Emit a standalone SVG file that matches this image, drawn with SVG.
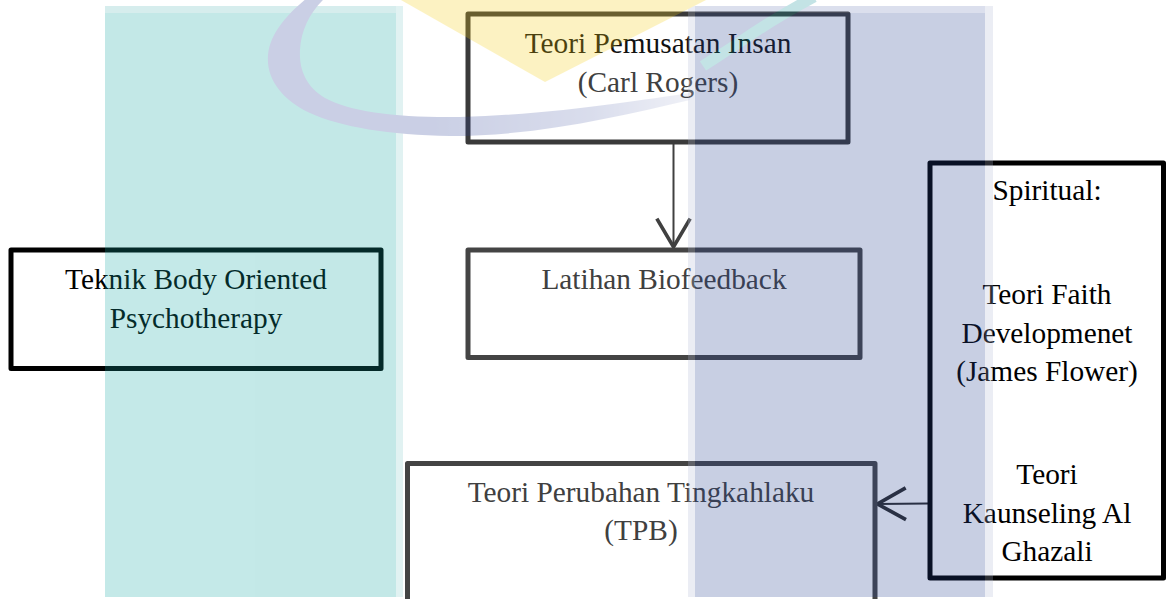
<svg xmlns="http://www.w3.org/2000/svg" width="1166" height="599" viewBox="0 0 1166 599">
  <style>
    .box { fill: none; stroke-width: 5; stroke-linejoin: round; }
    .dark { stroke: #000; }
    .grey { stroke: #444; }
    .top { stroke: #3a3a3a; }
    .t { font-family: "Liberation Serif", "Times New Roman", serif; font-size: 29.33px; text-anchor: middle; }
    .ink { fill: #000; }
    .ink2 { fill: #111; }
    .soft { fill: #404040; }
    .link { fill: none; stroke-width: 2; }
  </style>
  <defs>
    <marker id="headGrey" markerUnits="userSpaceOnUse" markerWidth="40" markerHeight="40" viewBox="-20 -12 24 24" refX="0" refY="0" orient="auto">
      <path d="M -17 -10 L 0 0 L -17 10" fill="none" stroke="#404040" stroke-width="2.2"/>
    </marker>
    <marker id="headDark" markerUnits="userSpaceOnUse" markerWidth="40" markerHeight="40" viewBox="-20 -12 24 24" refX="0" refY="0" orient="auto">
      <path d="M -17 -9.5 L 0 0 L -17 9.5" fill="none" stroke="#2a2a2a" stroke-width="2.2"/>
    </marker>
    <linearGradient id="ringFade" gradientUnits="userSpaceOnUse" x1="430" y1="0" x2="700" y2="0">
      <stop offset="0" stop-color="#2f4399" stop-opacity="1"/>
      <stop offset="0.6" stop-color="#2f4399" stop-opacity="0.7"/>
      <stop offset="1" stop-color="#2f4399" stop-opacity="0.25"/>
    </linearGradient>
  </defs>

  <rect x="0" y="0" width="1166" height="599" fill="#fff"/>

  <!-- connectors -->
  <g id="connectors">
    <line class="link" x1="673.5" y1="144" x2="673.5" y2="247" stroke="#404040" marker-end="url(#headGrey)"/>
    <line class="link" x1="928" y1="503.5" x2="877.5" y2="504" stroke="#2a2a2a" marker-end="url(#headDark)"/>
  </g>

  <g id="node-pemusatan">
    <rect class="box top" x="468" y="14" width="380" height="128"/>
    <text class="t ink2" x="658" y="53.3">Teori Pemusatan Insan</text>
    <text class="t soft" x="658" y="91.7">(Carl Rogers)</text>
  </g>

  <g id="node-body">
    <rect class="box dark" x="11" y="250" width="370" height="118.5"/>
    <text class="t ink" x="196" y="289.3">Teknik Body Oriented</text>
    <text class="t ink" x="196" y="327.7">Psychotherapy</text>
  </g>

  <g id="node-biofeedback">
    <rect class="box grey" x="468" y="250" width="392" height="107.5"/>
    <text class="t soft" x="664" y="289">Latihan Biofeedback</text>
  </g>

  <g id="node-tpb">
    <rect class="box grey" x="407.5" y="463.5" width="467.5" height="160"/>
    <text class="t soft" x="641" y="501.7">Teori Perubahan Tingkahlaku</text>
    <text class="t soft" x="641" y="540">(TPB)</text>
  </g>

  <g id="node-spiritual">
    <rect class="box dark" x="930" y="163" width="233.5" height="415"/>
    <text class="t ink" x="1047" y="200">Spiritual:</text>
    <text class="t ink" x="1047" y="304">Teori Faith</text>
    <text class="t ink" x="1047" y="342.5">Developmenet</text>
    <text class="t ink" x="1047" y="381">(James Flower)</text>
    <text class="t ink" x="1047" y="484">Teori</text>
    <text class="t ink" x="1047" y="522.5">Kaunseling Al</text>
    <text class="t ink" x="1047" y="561">Ghazali</text>
  </g>

  <!-- translucent emblem laid over the page -->
  <g id="watermark" opacity="0.25">
    <!-- teal column -->
    <rect x="105" y="13" width="291" height="584" fill="#13a7a3"/>
    <rect x="105" y="6" width="291" height="7" fill="#5fbbbb"/>
    <rect x="396" y="6" width="7" height="591" fill="#8bcfcf"/>
    <!-- blue column -->
    <rect x="695" y="13" width="290" height="584" fill="#274393"/>
    <rect x="695" y="6" width="290" height="7" fill="#7383bb"/>
    <rect x="688" y="6" width="7" height="591" fill="#b3bbd7"/>
    <rect x="985" y="6" width="8" height="591" fill="#b3bbd7"/>
    <!-- yellow wedge -->
    <polygon points="401,0 706,0 545,82" fill="#f7cf0f"/>
    <!-- crescent -->
    <path d="M 307,-2 C 290,12 270,32 268,55 C 266,80 283,100 310,113 C 340,127 390,135 450,136 C 540,136 620,116 690,100 L 690,93 C 640,100 560,114 460,117 C 400,118 350,112 325,98 C 305,86 299,68 300,50 C 301,30 310,12 325,-2 Z" fill="url(#ringFade)"/>
    <!-- teal streak at the upper right of the crescent -->
    <path d="M 814,-3 C 790,10 760,28 740,42 C 725,52 712,60 703,66" fill="none" stroke="#13939b" stroke-width="11"/>
  </g>
</svg>
